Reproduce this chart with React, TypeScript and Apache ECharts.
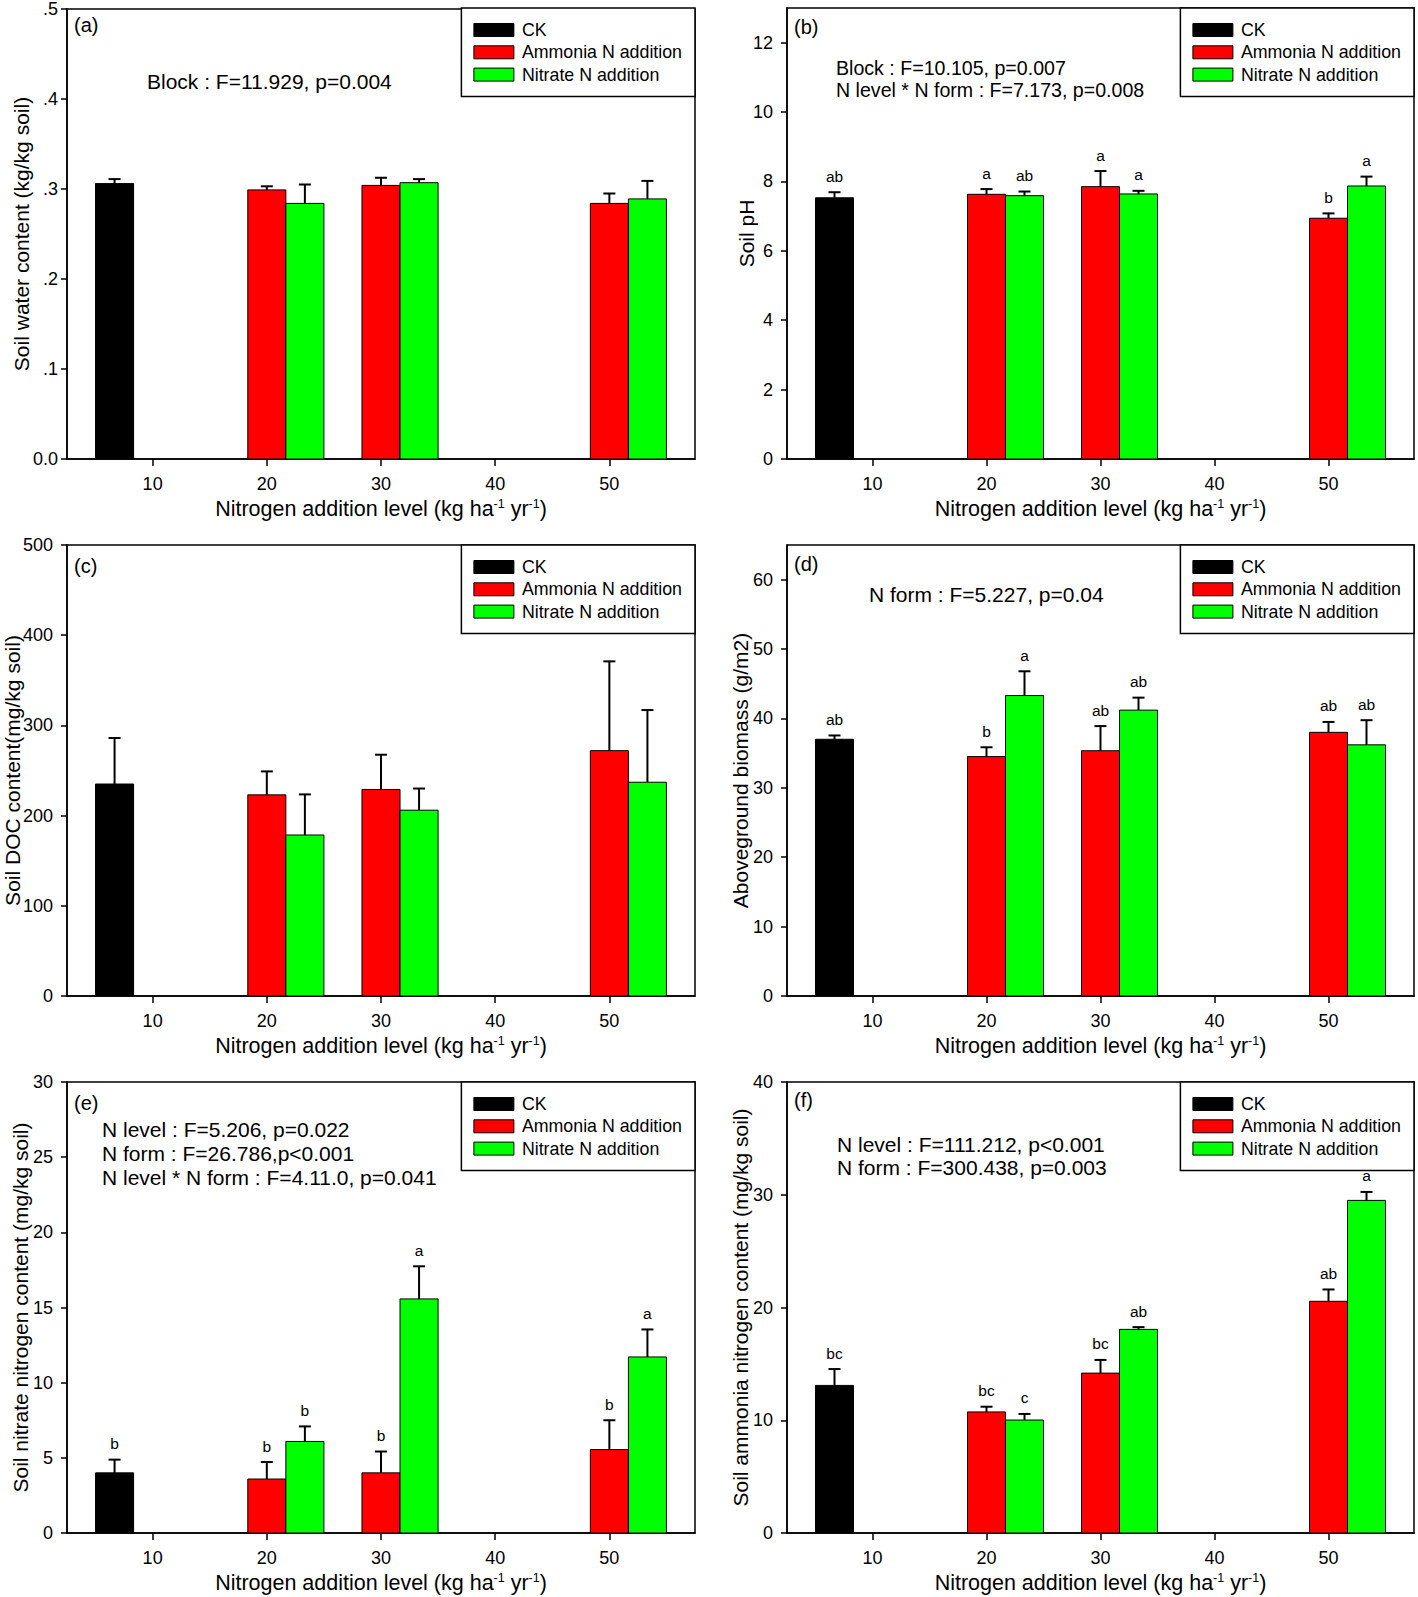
import React, { useEffect, useRef } from "react";
import * as echarts from "echarts";

const FONT = "'Liberation Sans', Arial, Helvetica, sans-serif";

// ---------- shared ----------
const levels = [10, 20, 30, 40, 50];
const seriesNames = ["CK", "Ammonia N addition", "Nitrate N addition"];
const seriesColors = ["#000000", "#ff0000", "#00ff00"];
const xTitle = "Nitrogen addition level (kg ha{sup|-1} yr{sup|-1})";

// ---------- panel (a) soil water content ----------
const aCK = [0.306, null, null, null, null];
const aCKErr = [0.005, null, null, null, null];
const aAmm = [null, 0.299, 0.304, null, 0.284];
const aAmmErr = [null, 0.004, 0.0085, null, 0.011];
const aNit = [null, 0.284, 0.307, null, 0.289];
const aNitErr = [null, 0.021, 0.004, null, 0.020];
const aTicks = [0, 0.1, 0.2, 0.3, 0.4, 0.5];
const aTickLabels = ["0.0", ".1", ".2", ".3", ".4", ".5"];

// ---------- panel (b) soil pH ----------
const bCK = [7.53, null, null, null, null];
const bCKErr = [0.16, null, null, null, null];
const bAmm = [null, 7.63, 7.85, null, 6.94];
const bAmmErr = [null, 0.15, 0.45, null, 0.14];
const bNit = [null, 7.59, 7.64, null, 7.87];
const bNitErr = [null, 0.12, 0.09, null, 0.27];
const bCKLet = ["ab", null, null, null, null];
const bAmmLet = [null, "a", "a", null, "b"];
const bNitLet = [null, "ab", "a", null, "a"];
const bTicks = [0, 2, 4, 6, 8, 10, 12];

// ---------- panel (c) soil DOC ----------
const cCK = [235, null, null, null, null];
const cCKErr = [51, null, null, null, null];
const cAmm = [null, 223, 229, null, 272];
const cAmmErr = [null, 26, 38.5, null, 99];
const cNit = [null, 178.5, 206, null, 237];
const cNitErr = [null, 45, 24, null, 80];
const cTicks = [0, 100, 200, 300, 400, 500];

// ---------- panel (d) aboveground biomass ----------
const dCK = [37.0, null, null, null, null];
const dCKErr = [0.55, null, null, null, null];
const dAmm = [null, 34.5, 35.35, null, 38.0];
const dAmmErr = [null, 1.35, 3.55, null, 1.5];
const dNit = [null, 43.3, 41.2, null, 36.2];
const dNitErr = [null, 3.5, 1.8, null, 3.55];
const dCKLet = ["ab", null, null, null, null];
const dAmmLet = [null, "b", "ab", null, "ab"];
const dNitLet = [null, "a", "ab", null, "ab"];
const dTicks = [0, 10, 20, 30, 40, 50, 60];

// ---------- panel (e) soil nitrate N ----------
const eCK = [4.0, null, null, null, null];
const eCKErr = [0.88, null, null, null, null];
const eAmm = [null, 3.59, 4.0, null, 5.55];
const eAmmErr = [null, 1.13, 1.42, null, 1.95];
const eNit = [null, 6.09, 15.57, null, 11.71];
const eNitErr = [null, 1.0, 2.17, null, 1.83];
const eCKLet = ["b", null, null, null, null];
const eAmmLet = [null, "b", "b", null, "b"];
const eNitLet = [null, "b", "a", null, "a"];
const eTicks = [0, 5, 10, 15, 20, 25, 30];

// ---------- panel (f) soil ammonia N ----------
const fCK = [13.09, null, null, null, null];
const fCKErr = [1.45, null, null, null, null];
const fAmm = [null, 10.74, 14.18, null, 20.55];
const fAmmErr = [null, 0.46, 1.17, null, 1.05];
const fNit = [null, 10.02, 18.06, null, 29.5];
const fNitErr = [null, 0.54, 0.2, null, 0.75];
const fCKLet = ["bc", null, null, null, null];
const fAmmLet = [null, "bc", "bc", null, "ab"];
const fNitLet = [null, "c", "ab", null, "a"];
const fTicks = [0, 10, 20, 30, 40];

const none = [null, null, null, null, null];

type Panel = {
  tag: string;
  yTitle: string;
  yMax: number;
  yTicks: number[];
  yTickLabels?: string[];
  means: (number | null)[][];
  errs: (number | null)[][];
  letters: (string | null)[][];
  stats: string[];
};

const panels: Panel[] = [
  {
    tag: "(a)", yTitle: "Soil water content (kg/kg soil)", yMax: 0.5, yTicks: aTicks, yTickLabels: aTickLabels,
    means: [aCK, aAmm, aNit], errs: [aCKErr, aAmmErr, aNitErr], letters: [none, none, none],
    stats: ["Block : F=11.929, p=0.004"],
  },
  {
    tag: "(b)", yTitle: "Soil pH", yMax: 13, yTicks: bTicks,
    means: [bCK, bAmm, bNit], errs: [bCKErr, bAmmErr, bNitErr], letters: [bCKLet, bAmmLet, bNitLet],
    stats: ["Block : F=10.105, p=0.007", "N level * N form : F=7.173, p=0.008"],
  },
  {
    tag: "(c)", yTitle: "Soil DOC content(mg/kg soil)", yMax: 500, yTicks: cTicks,
    means: [cCK, cAmm, cNit], errs: [cCKErr, cAmmErr, cNitErr], letters: [none, none, none],
    stats: [],
  },
  {
    tag: "(d)", yTitle: "Aboveground biomass (g/m2)", yMax: 65, yTicks: dTicks,
    means: [dCK, dAmm, dNit], errs: [dCKErr, dAmmErr, dNitErr], letters: [dCKLet, dAmmLet, dNitLet],
    stats: ["N form : F=5.227, p=0.04"],
  },
  {
    tag: "(e)", yTitle: "Soil nitrate nitrogen content (mg/kg soil)", yMax: 30, yTicks: eTicks,
    means: [eCK, eAmm, eNit], errs: [eCKErr, eAmmErr, eNitErr], letters: [eCKLet, eAmmLet, eNitLet],
    stats: ["N level : F=5.206, p=0.022", "N form : F=26.786,p<0.001", "N level * N form : F=4.11.0, p=0.041"],
  },
  {
    tag: "(f)", yTitle: "Soil ammonia nitrogen content (mg/kg soil)", yMax: 40, yTicks: fTicks,
    means: [fCK, fAmm, fNit], errs: [fCKErr, fAmmErr, fNitErr], letters: [fCKLet, fAmmLet, fNitLet],
    stats: ["N level : F=111.212, p<0.001", "N form : F=300.438, p=0.003"],
  },
];

// ---------- layout ----------
const W = 1418;
const H = 1597;
const COL_LEFT = [67, 787];
const COL_W = [628, 627];
const ROW_TOP = [8, 545, 1082];
const PLOT_H = 451;
const Y_NAME_GAP = [35.5, 30, 44.5, 36, 36, 36];
const Y_LABEL_MARGIN = [9, 14, 14, 14, 14, 14];
const TAG_DY = [17, 18.5, 21, 18.5, 21, 18];
const STATS_POS = [
  [80, 73],
  [49, 59.5],
  [0, 0],
  [82, 49],
  [35, 47],
  [50, 62],
];
const STATS_FS = [21, 19.6, 21, 21, 21, 21];
const STATS_LH = [0, 22, 0, 0, 24, 23.5];
const BAR_UNITS = 10 / 3;

function makeRender(offset: number, letters: (string | null)[]) {
  return (params: any, api: any) => {
    const lvl = api.value(0);
    const mean = api.value(1);
    const err = api.value(2);
    const xc = lvl + offset * BAR_UNITS;
    const w = api.size([BAR_UNITS, 0])[0];
    const p0 = api.coord([xc, 0]);
    const p1 = api.coord([xc, mean]);
    const p2 = api.coord([xc, mean + err]);
    const children: any[] = [
      {
        type: "line",
        shape: { x1: p1[0], y1: p1[1], x2: p2[0], y2: p2[1] },
        style: { stroke: "#000", lineWidth: 2 },
      },
      {
        type: "line",
        shape: { x1: p2[0] - 6, y1: p2[1], x2: p2[0] + 6, y2: p2[1] },
        style: { stroke: "#000", lineWidth: 2 },
      },
      {
        type: "rect",
        shape: { x: p1[0] - w / 2, y: p1[1], width: w, height: p0[1] - p1[1] },
        style: { fill: api.visual("color"), stroke: "#000", lineWidth: 1 },
      },
    ];
    const letter = letters[params.dataIndex];
    if (letter) {
      children.push({
        type: "text",
        x: p2[0],
        y: p2[1] - 16,
        style: {
          text: letter,
          fontSize: 15.5,
          fontFamily: FONT,
          fill: "#000",
          align: "center",
          verticalAlign: "middle",
          textAlign: "center",
          textVerticalAlign: "middle",
        },
      });
    }
    return { type: "group", children };
  };
}

function buildOption() {
  const grids: any[] = [];
  const xAxes: any[] = [];
  const yAxes: any[] = [];
  const series: any[] = [];
  const legends: any[] = [];
  const graphics: any[] = [];

  panels.forEach((p, i) => {
    const col = i % 2;
    const row = Math.floor(i / 2);
    const left = COL_LEFT[col];
    const width = COL_W[col];
    const top = ROW_TOP[row];
    grids.push({
      left,
      top,
      width,
      height: PLOT_H,
      show: true,
      borderColor: "#000",
      borderWidth: 1.5,
      backgroundColor: "transparent",
      containLabel: false,
    });
    xAxes.push({
      gridIndex: i,
      type: "value",
      min: 2.5,
      max: 57.5,
      splitLine: { show: false },
      axisLine: { show: true, onZero: false, lineStyle: { color: "#000", width: 1.5 } },
      axisTick: { show: true, length: 7, customValues: levels, lineStyle: { color: "#000", width: 1.5 } },
      axisLabel: { customValues: levels, margin: 16, fontSize: 18, color: "#000", fontFamily: FONT },
      name: xTitle,
      nameLocation: "middle",
      nameGap: 38,
      nameMoveOverlap: false,
      nameTextStyle: {
        fontSize: 21.5,
        color: "#000",
        fontFamily: FONT,
        lineHeight: 24,
        rich: {
          sup: { fontSize: 12.5, fontFamily: FONT, color: "#000", verticalAlign: "top", lineHeight: 14 },
        },
      },
    });
    yAxes.push({
      gridIndex: i,
      type: "value",
      min: 0,
      max: p.yMax,
      splitLine: { show: false },
      axisLine: { show: true, onZero: false, lineStyle: { color: "#000", width: 1.5 } },
      axisTick: { show: true, length: 6, customValues: p.yTicks, lineStyle: { color: "#000", width: 1.5 } },
      axisLabel: {
        customValues: p.yTicks,
        margin: Y_LABEL_MARGIN[i],
        fontSize: 18,
        color: "#000",
        fontFamily: FONT,
        formatter: (v: number) => {
          if (p.yTickLabels) {
            const k = p.yTicks.findIndex((t) => Math.abs(t - v) < 1e-9);
            return k >= 0 ? p.yTickLabels[k] : "";
          }
          return String(v);
        },
      },
      name: p.yTitle,
      nameLocation: "middle",
      nameRotate: 90,
      nameGap: Y_NAME_GAP[i],
      nameMoveOverlap: false,
      nameTextStyle: { fontSize: 21, color: "#000", fontFamily: FONT, lineHeight: 21 },
    });

    [0, 1, 2].forEach((s) => {
      const m = p.means[s];
      const e = p.errs[s];
      const data: number[][] = [];
      const lets: (string | null)[] = [];
      m.forEach((v, k) => {
        if (v != null) {
          data.push([levels[k], v, (e[k] as number) || 0]);
          lets.push(p.letters[s][k]);
        }
      });
      series.push({
        type: "custom",
        name: seriesNames[s],
        xAxisIndex: i,
        yAxisIndex: i,
        data,
        encode: { x: 0, y: 1 },
        itemStyle: { color: seriesColors[s], borderColor: "#000", borderWidth: 1 },
        clip: false,
        silent: true,
        renderItem: makeRender(s - 1, lets),
      });
    });

    legends.push({
      show: true,
      orient: "vertical",
      top,
      right: W - (left + width),
      data: seriesNames,
      icon: "rect",
      itemWidth: 40,
      itemHeight: 13,
      itemGap: 2.3,
      padding: [12, 13, 12, 12],
      backgroundColor: "#fff",
      borderColor: "#000",
      borderWidth: 1.5,
      selectedMode: false,
      itemStyle: { borderColor: "#000", borderWidth: 1 },
      textStyle: {
        fontSize: 17.8,
        color: "#000",
        fontFamily: FONT,
        lineHeight: 20,
        padding: [0, 0, 0, 3],
      },
    });

    graphics.push({
      type: "text",
      x: left + 7,
      y: top + TAG_DY[i],
      style: {
        text: p.tag,
        fontSize: 20,
        fontFamily: FONT,
        fill: "#000",
        verticalAlign: "middle",
        textVerticalAlign: "middle",
      },
    });
    p.stats.forEach((line, li) => {
      graphics.push({
        type: "text",
        x: left + STATS_POS[i][0],
        y: top + STATS_POS[i][1] + li * STATS_LH[i],
        style: {
          text: line,
          fontSize: STATS_FS[i],
          fontFamily: FONT,
          fill: "#000",
          verticalAlign: "middle",
          textVerticalAlign: "middle",
        },
      });
    });
  });

  return {
    animation: false,
    backgroundColor: "#fff",
    grid: grids,
    xAxis: xAxes,
    yAxis: yAxes,
    legend: legends,
    series,
    graphic: graphics,
  };
}

export default function App() {
  const ref = useRef<HTMLDivElement>(null);
  useEffect(() => {
    document.body.style.margin = "0";
    if (!ref.current) return;
    const chart = echarts.init(ref.current, undefined, { renderer: "svg", width: W, height: H });
    chart.setOption(buildOption() as any);
    return () => {
      chart.dispose();
    };
  }, []);
  return (
    <div
      ref={ref}
      style={{ position: "absolute", left: 0, top: 0, width: W, height: H, background: "#fff" }}
    />
  );
}
